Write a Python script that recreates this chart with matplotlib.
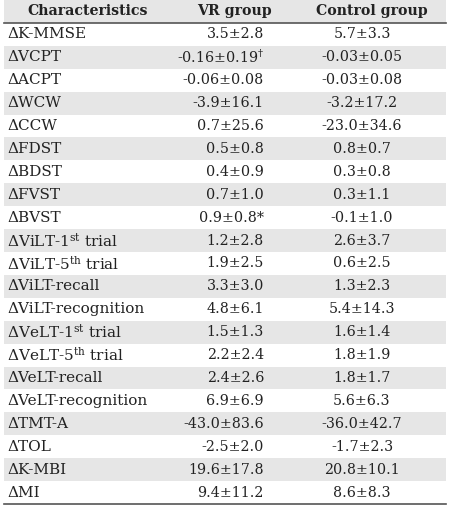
import matplotlib
matplotlib.use("Agg")
import matplotlib.pyplot as plt
from matplotlib.patches import Rectangle

# table contents
headers = ["Characteristics", "VR group", "Control group"]
characteristics = [
    "ΔK-MMSE", "ΔVCPT", "ΔACPT", "ΔWCW", "ΔCCW", "ΔFDST", "ΔBDST", "ΔFVST", "ΔBVST",
    r"ΔViLT-1$^{\mathrm{st}}$ trial", r"ΔViLT-5$^{\mathrm{th}}$ trial", "ΔViLT-recall",
    "ΔViLT-recognition", r"ΔVeLT-1$^{\mathrm{st}}$ trial", r"ΔVeLT-5$^{\mathrm{th}}$ trial",
    "ΔVeLT-recall", "ΔVeLT-recognition", "ΔTMT-A", "ΔTOL", "ΔK-MBI", "ΔMI",
]
vr_group = [
    "3.5±2.8", "-0.16±0.19", "-0.06±0.08", "-3.9±16.1", "0.7±25.6", "0.5±0.8", "0.4±0.9",
    "0.7±1.0", "0.9±0.8", "1.2±2.8", "1.9±2.5", "3.3±3.0", "4.8±6.1", "1.5±1.3", "2.2±2.4",
    "2.4±2.6", "6.9±6.9", "-43.0±83.6", "-2.5±2.0", "19.6±17.8", "9.4±11.2",
]
# significance marks on the VR column
vr_marks = ["", r"$^{\dagger}$", "", "", "", "", "", "", "*", "", "", "", "", "", "",
            "", "", "", "", "", ""]
control_group = [
    "5.7±3.3", "-0.03±0.05", "-0.03±0.08", "-3.2±17.2", "-23.0±34.6", "0.8±0.7", "0.3±0.8",
    "0.3±1.1", "-0.1±1.0", "2.6±3.7", "0.6±2.5", "1.3±2.3", "5.4±14.3", "1.6±1.4", "1.8±1.9",
    "1.8±1.7", "5.6±6.3", "-36.0±42.7", "-1.7±2.3", "20.8±10.1", "8.6±8.3",
]

plt.rcParams['font.family'] = 'DejaVu Serif'
plt.rcParams['mathtext.fontset'] = 'dejavuserif'

W, H = 450, 508
n = len(characteristics)
row_h = 504 / (n + 1)
left, right = 4, 446
stripe = '#e6e6e6'
txt = '#222222'

fig = plt.figure(figsize=(W / 100, H / 100), dpi=100)
ax = fig.add_axes([0, 0, 1, 1])
ax.set_xlim(0, W)
ax.set_ylim(H, 0)
ax.axis('off')

# header
ax.add_patch(Rectangle((left, 0), right - left, row_h, color=stripe, lw=0))
ax.text(88, row_h / 2, headers[0], ha='center', va='center', fontsize=10.2, fontweight='bold', color=txt)
ax.text(234, row_h / 2, headers[1], ha='center', va='center', fontsize=10.2, fontweight='bold', color=txt)
ax.text(372, row_h / 2, headers[2], ha='center', va='center', fontsize=10.2, fontweight='bold', color=txt)

for i, name in enumerate(characteristics):
    top = row_h * (i + 1)
    yc = top + row_h / 2
    if i % 2 == 1:
        ax.add_patch(Rectangle((left, top), right - left, row_h, color=stripe, lw=0))
    ax.text(7, yc, name, ha='left', va='center', fontsize=11, color=txt)
    ax.text(264, yc, vr_group[i] + vr_marks[i], ha='right', va='center', fontsize=10.3, color=txt)
    ax.text(362, yc, control_group[i], ha='center', va='center', fontsize=10.3, color=txt)

ax.plot([left, right], [row_h, row_h], color='#555555', lw=1.2)
ax.plot([left, right], [row_h * (n + 1), row_h * (n + 1)], color='#555555', lw=1.2)

fig.savefig('out.png', dpi=100)
